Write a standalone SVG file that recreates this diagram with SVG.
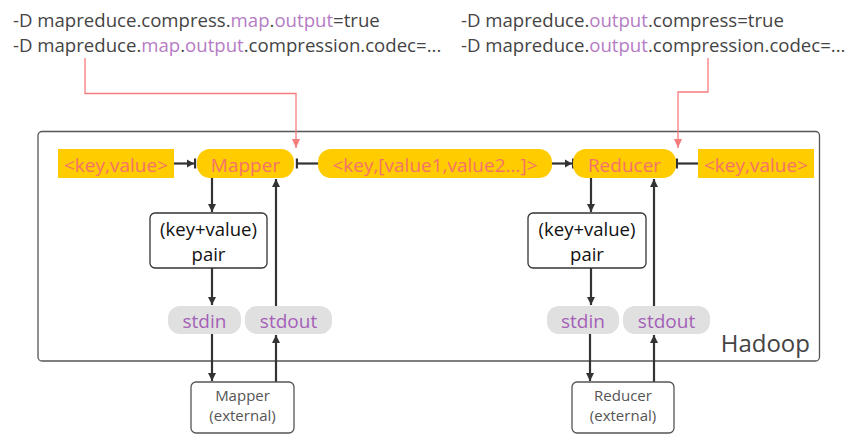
<svg xmlns="http://www.w3.org/2000/svg" width="854" height="444" viewBox="0 0 854 444">
<defs>
<style>
text{font-family:"Open Sans","Noto Sans","DejaVu Sans",sans-serif}
.cmd{font-size:18.6px;fill:#444}
.hl{fill:#b57cc4}
.yl{fill:#ffcc00}
.yt{font-size:19px;fill:#f5736a;text-anchor:middle}
.box{fill:#fff;stroke:#333;stroke-width:1.3}
.ext{fill:#fff;stroke:#555;stroke-width:1.3}
.bt{font-size:18.5px;fill:#111;text-anchor:middle}
.et{font-size:15px;fill:#555;text-anchor:middle}
.pill{fill:#e0e0e0}
.pt{font-size:19px;fill:#a460b8;text-anchor:middle}
.ln{stroke:#333;stroke-width:2.2;fill:none}
.red{stroke:#f47c7c;stroke-width:1.3;fill:none}
</style>
<marker id="ah" markerWidth="10" markerHeight="10" refX="8" refY="5" orient="auto" markerUnits="userSpaceOnUse">
<path d="M0,1 L8,5 L0,9 z" fill="#333"/>
</marker>
<marker id="aht" markerWidth="12" markerHeight="12" refX="10" refY="6" orient="auto" markerUnits="userSpaceOnUse">
<path d="M1,2 L8,6 L1,10 z" fill="#333"/>
<rect x="8" y="1" width="2.2" height="10" fill="#333"/>
</marker>
<marker id="tee" markerWidth="4" markerHeight="12" refX="1" refY="6" orient="auto" markerUnits="userSpaceOnUse">
<rect x="0" y="1" width="2.2" height="10" fill="#333"/>
</marker>
<marker id="rah" markerWidth="10" markerHeight="8" refX="9" refY="4" orient="auto" markerUnits="userSpaceOnUse">
<path d="M0,0 L9,4 L0,8 z" fill="#f47c7c"/>
</marker>
</defs>

<g id="config-map">
<text class="cmd" x="13" y="27">-D mapreduce.compress.<tspan class="hl">map</tspan>.<tspan class="hl">output</tspan>=true</text>
<text class="cmd" x="13" y="52">-D mapreduce.<tspan class="hl">map</tspan>.<tspan class="hl">output</tspan>.compression.codec=...</text>
</g>
<g id="config-reduce">
<text class="cmd" x="461" y="27">-D mapreduce.<tspan class="hl">output</tspan>.compress=true</text>
<text class="cmd" x="461" y="52">-D mapreduce.<tspan class="hl">output</tspan>.compression.codec=...</text>
</g>

<g id="hadoop">
<rect x="38" y="131.5" width="781.5" height="229.5" rx="4" fill="none" stroke="#555" stroke-width="1.3"/>
<text x="810" y="352" font-size="24" fill="#444" text-anchor="end">Hadoop</text>
</g>

<g id="connectors">
<path class="red" d="M85,58 V93.5 H296 V148" marker-end="url(#rah)"/>
<path class="red" d="M708,58 V92 H678 V148" marker-end="url(#rah)"/>
<line class="ln" x1="174" y1="163.5" x2="196" y2="163.5" marker-end="url(#aht)"/>
<line class="ln" x1="318" y1="163.5" x2="297" y2="163.5" marker-end="url(#tee)"/>
<line class="ln" x1="552" y1="163.5" x2="574" y2="163.5" marker-end="url(#aht)"/>
<line class="ln" x1="698" y1="163.5" x2="677" y2="163.5" marker-end="url(#tee)"/>
<line class="ln" x1="212" y1="178" x2="212" y2="212" marker-end="url(#ah)"/>
<line class="ln" x1="212" y1="268" x2="212" y2="305" marker-end="url(#ah)"/>
<line class="ln" x1="212" y1="334" x2="212" y2="381" marker-end="url(#ah)"/>
<line class="ln" x1="276" y1="382" x2="276" y2="335" marker-end="url(#ah)"/>
<line class="ln" x1="276" y1="306" x2="276" y2="179" marker-end="url(#ah)"/>
<line class="ln" x1="591" y1="178" x2="591" y2="212" marker-end="url(#ah)"/>
<line class="ln" x1="591" y1="268" x2="591" y2="305" marker-end="url(#ah)"/>
<line class="ln" x1="590" y1="334" x2="590" y2="381" marker-end="url(#ah)"/>
<line class="ln" x1="654" y1="382" x2="654" y2="335" marker-end="url(#ah)"/>
<line class="ln" x1="654" y1="306" x2="654" y2="179" marker-end="url(#ah)"/>
</g>

<g id="kv-in">
<rect class="yl" x="58" y="149" width="116" height="29"/>
<text class="yt" x="116" y="171.5">&lt;key,value&gt;</text>
</g>
<g id="mapper">
<rect class="yl" x="197" y="149" width="97" height="29" rx="13"/>
<text class="yt" x="245.5" y="171.5">Mapper</text>
</g>
<g id="shuffle">
<rect class="yl" x="318" y="149" width="234" height="29" rx="13"/>
<text class="yt" x="435" y="171.5">&lt;key,[value1,value2...]&gt;</text>
</g>
<g id="reducer">
<rect class="yl" x="573" y="149" width="103" height="29" rx="13"/>
<text class="yt" x="624.5" y="171.5">Reducer</text>
</g>
<g id="kv-out">
<rect class="yl" x="698" y="149" width="116" height="29"/>
<text class="yt" x="756" y="171.5">&lt;key,value&gt;</text>
</g>

<g id="map-pair">
<rect class="box" x="150" y="213" width="117" height="55" rx="5"/>
<text class="bt" x="208.5" y="236">(key+value)</text>
<text class="bt" x="208.5" y="261">pair</text>
</g>
<g id="red-pair">
<rect class="box" x="528" y="213" width="118" height="55" rx="5"/>
<text class="bt" x="587" y="236">(key+value)</text>
<text class="bt" x="587" y="261">pair</text>
</g>

<g id="map-stdin">
<rect class="pill" x="168" y="306" width="73" height="28" rx="12"/>
<text class="pt" x="204.5" y="328">stdin</text>
</g>
<g id="map-stdout">
<rect class="pill" x="245" y="306" width="87" height="28" rx="12"/>
<text class="pt" x="288.5" y="328">stdout</text>
</g>
<g id="red-stdin">
<rect class="pill" x="547" y="306" width="72" height="28" rx="12"/>
<text class="pt" x="583" y="328">stdin</text>
</g>
<g id="red-stdout">
<rect class="pill" x="623" y="306" width="87" height="28" rx="12"/>
<text class="pt" x="666.5" y="328">stdout</text>
</g>

<g id="map-ext">
<rect class="ext" x="191" y="382" width="103" height="51" rx="5"/>
<text class="et" x="242.5" y="401">Mapper</text>
<text class="et" x="242.5" y="421">(external)</text>
</g>
<g id="red-ext">
<rect class="ext" x="572" y="382" width="102" height="51" rx="5"/>
<text class="et" x="623" y="401">Reducer</text>
<text class="et" x="623" y="421">(external)</text>
</g>
</svg>
